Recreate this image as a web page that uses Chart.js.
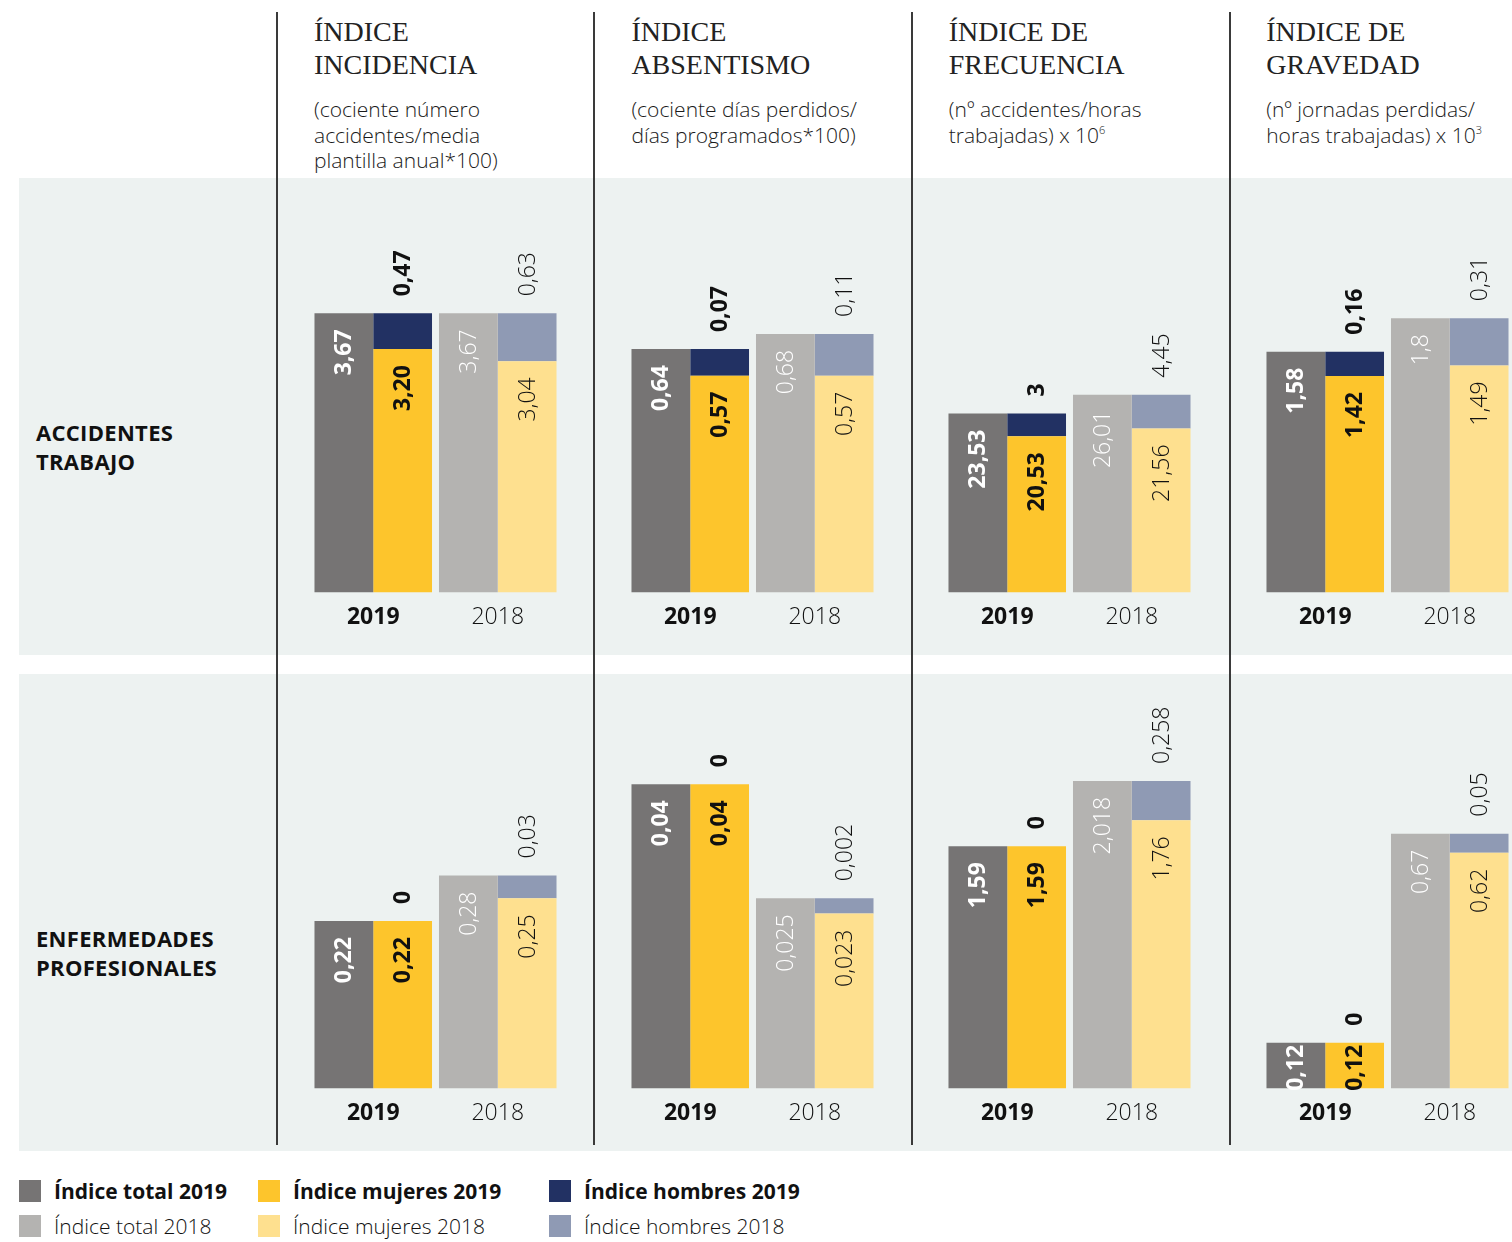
<!DOCTYPE html>
<html lang="es">
<head>
<meta charset="utf-8">
<script src="https://cdn.jsdelivr.net/npm/chart.js@4/dist/chart.umd.min.js"></script>
<style>
  html, body { margin: 0; padding: 0; background: #fff; }
  body { width: 1512px; height: 1242px; position: relative; overflow: hidden; font-family: "Open Sans", Lato, sans-serif; color: #111; }
  .band { position: absolute; left: 19px; width: 1493px; height: 477px; background: #edf2f1; }
  .vline { position: absolute; top: 12px; width: 1.5px; height: 1133px; background: #3a3a3a; }
  .head { position: absolute; top: 15px; }
  .head h2 { margin: 0; font-family: "Liberation Serif", serif; font-weight: normal; font-size: 28px; line-height: 33px; color: #222; }
  .head p { margin: 16px 0 0; font-size: 21px; line-height: 25.5px; font-weight: 300; color: #1a1a1a; }
  .head sup { font-size: 11px; vertical-align: 9px; line-height: 0; }
  .rowlab { position: absolute; left: 36px; font-weight: 700; font-size: 22px; line-height: 29px; letter-spacing: 0.3px; }
  .panel { position: absolute; width: 249px; height: 477px; }
  .legend { position: absolute; left: 19px; top: 1180px; display: grid; grid-template-columns: 239px 291px 300px; row-gap: 13px; font-size: 21px; }
  .legend div { display: flex; align-items: center; height: 22px; }
  .legend i { width: 22px; height: 22px; margin-right: 13px; display: inline-block; }
  .legend .b { font-weight: 700; }
  .legend .l { font-weight: 300; }
</style>
</head>
<body>
<script>
// --- data -------------------------------------------------------------
const years = ['2019', '2018'];
const rowNames = [['ACCIDENTES', 'TRABAJO'], ['ENFERMEDADES', 'PROFESIONALES']];
const indexTitles = [
  ['ÍNDICE', 'INCIDENCIA'],
  ['ÍNDICE', 'ABSENTISMO'],
  ['ÍNDICE DE', 'FRECUENCIA'],
  ['ÍNDICE DE', 'GRAVEDAD']
];
const indexNotes = [
  ['(cociente número', 'accidentes/media', 'plantilla anual*100)'],
  ['(cociente días perdidos/', 'días programados*100)'],
  ['(nº accidentes/horas', 'trabajadas) x 10<sup>6</sup>'],
  ['(nº jornadas perdidas/', 'horas trabajadas) x 10<sup>3</sup>']
];
// one pair [2019, 2018] per panel: row 1 then row 2, left to right
const totalIdx = [['3,67', '3,67'], ['0,64', '0,68'], ['23,53', '26,01'], ['1,58', '1,8'],
                  ['0,22', '0,28'], ['0,04', '0,025'], ['1,59', '2,018'], ['0,12', '0,67']];
const womenIdx = [['3,20', '3,04'], ['0,57', '0,57'], ['20,53', '21,56'], ['1,42', '1,49'],
                  ['0,22', '0,25'], ['0,04', '0,023'], ['1,59', '1,76'], ['0,12', '0,62']];
const menIdx   = [['0,47', '0,63'], ['0,07', '0,11'], ['3', '4,45'], ['0,16', '0,31'],
                  ['0', '0,03'], ['0', '0,002'], ['0', '0,258'], ['0', '0,05']];
const axisMax  = [5.45, 1.09, 54.5, 2.72, 0.545, 0.0545, 2.72, 1.09];

const seriesNames = ['Índice total', 'Índice mujeres', 'Índice hombres'];
const colors2019 = ['#767474', '#fdc52c', '#223163'];
const colors2018 = ['#b4b3b1', '#fee08f', '#8f9ab4'];

const FONT = '"Open Sans", Lato, sans-serif';
const toNum = s => parseFloat(s.replace(',', '.'));

// --- static layout ----------------------------------------------------
const rowTops = [178, 674];
const panelLeft = i => 310.5 + i * 317.4;

rowTops.forEach((top, r) => {
  const b = document.createElement('div');
  b.className = 'band';
  b.style.top = top + 'px';
  document.body.appendChild(b);
  const lab = document.createElement('div');
  lab.className = 'rowlab';
  lab.style.top = (top + 240 + r * 10) + 'px';
  lab.innerHTML = rowNames[r].join('<br>');
  document.body.appendChild(lab);
});

[276, 593, 911, 1229].forEach(x => {
  const v = document.createElement('div');
  v.className = 'vline';
  v.style.left = x + 'px';
  document.body.appendChild(v);
});

indexTitles.forEach((t, i) => {
  const h = document.createElement('div');
  h.className = 'head';
  h.style.left = (panelLeft(i) + 3.5) + 'px';
  h.innerHTML = '<h2>' + t.join('<br>') + '</h2><p>' + indexNotes[i].join('<br>') + '</p>';
  document.body.appendChild(h);
});

// legend
const leg = document.createElement('div');
leg.className = 'legend';
[colors2019, colors2018].forEach((cols, y) => {
  seriesNames.forEach((n, k) => {
    const d = document.createElement('div');
    d.className = y === 0 ? 'b' : 'l';
    d.innerHTML = '<i style="background:' + cols[k] + '"></i>' + n + ' ' + years[y];
    leg.appendChild(d);
  });
});
document.body.appendChild(leg);

// --- value labels, rotated ------------------------------------------
const valueLabels = {
  id: 'valueLabels',
  afterDatasetsDraw(chart) {
    const ctx = chart.ctx;
    chart.data.datasets.forEach((ds, di) => {
      const meta = chart.getDatasetMeta(di);
      meta.data.forEach((bar, j) => {
        const txt = ds.texts[j];
        ctx.save();
        ctx.font = (j === 0 ? '700 ' : '300 ') + '23px ' + FONT;
        ctx.textBaseline = 'middle';
        const w = ctx.measureText(txt).width;
        const h = bar.base - bar.y;
        if (di === 2) {
          ctx.fillStyle = '#111';
          ctx.translate(bar.x + 1, bar.y - 17);
          ctx.rotate(-Math.PI / 2);
          ctx.textAlign = 'left';
        } else {
          ctx.fillStyle = di === 0 ? '#fff' : '#111';
          const off = h < w + 30 ? 2 : 16;
          ctx.translate(bar.x + 1, bar.y + off);
          ctx.rotate(-Math.PI / 2);
          ctx.textAlign = 'right';
        }
        ctx.fillText(txt, 0, 0);
        ctx.restore();
      });
    });
  }
};

// --- charts -----------------------------------------------------------
totalIdx.forEach((tot, p) => {
  const r = Math.floor(p / 4), c = p % 4;
  const box = document.createElement('div');
  box.className = 'panel';
  box.style.left = panelLeft(c) + 'px';
  box.style.top = rowTops[r] + 'px';
  const cv = document.createElement('canvas');
  box.appendChild(cv);
  document.body.appendChild(box);

  const sets = [totalIdx[p], womenIdx[p], menIdx[p]];
  new Chart(cv, {
    type: 'bar',
    data: {
      labels: years,
      datasets: sets.map((vals, k) => ({
        label: seriesNames[k],
        data: vals.map(toNum),
        texts: vals,
        stack: k === 0 ? 'total' : 'sexo',
        backgroundColor: [colors2019[k], colors2018[k]],
        borderWidth: 0,
        barPercentage: 1,
        categoryPercentage: 0.944
      }))
    },
    options: {
      responsive: true,
      maintainAspectRatio: false,
      animation: false,
      layout: { padding: { top: 0, left: 0, right: 0, bottom: 13 } },
      scales: {
        x: {
          stacked: true,
          grid: { display: false, drawTicks: false },
          border: { display: false },
          ticks: {
            color: '#111',
            padding: 11,
            font: ctx => ({ family: FONT, size: 23, weight: ctx.index === 0 ? '700' : '300' })
          }
        },
        y: { stacked: true, display: false, min: 0, max: axisMax[p] }
      },
      plugins: { legend: { display: false }, tooltip: { enabled: false } }
    },
    plugins: [valueLabels]
  });
});
</script>
</body>
</html>
